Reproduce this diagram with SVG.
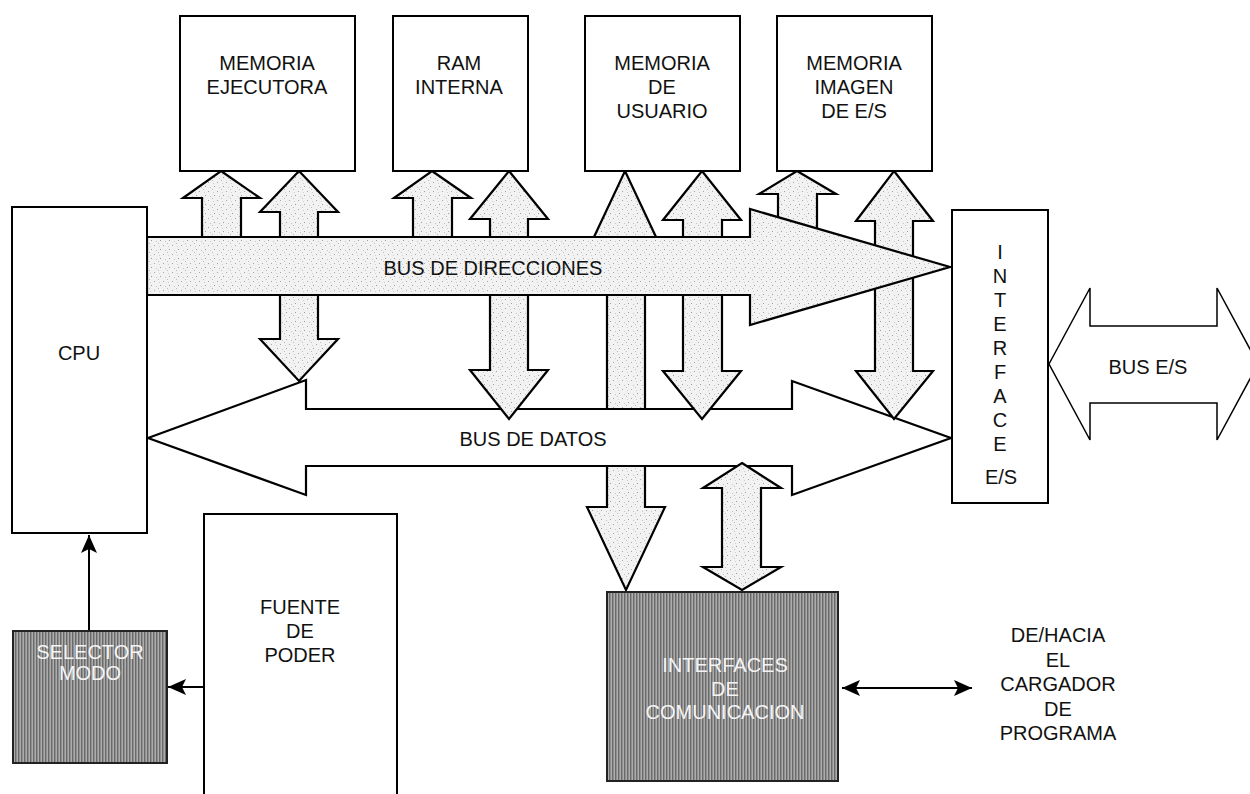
<svg xmlns="http://www.w3.org/2000/svg" width="1250" height="794" viewBox="0 0 1250 794">
  <defs>
    <!-- light stipple used for the bus and memory-access arrows -->
    <pattern id="stipple" width="9" height="9" patternUnits="userSpaceOnUse">
      <rect width="9" height="9" fill="#f2f2f2"/>
      <rect x="1" y="2" width="1" height="1" fill="#a8a8a8"/>
      <rect x="5" y="0" width="1" height="1" fill="#bcbcbc"/>
      <rect x="7" y="6" width="1" height="1" fill="#9c9c9c"/>
      <rect x="3" y="7" width="1" height="1" fill="#c4c4c4"/>
      <rect x="6" y="3" width="1" height="1" fill="#cfcfcf"/>
    </pattern>
    <!-- dark vertical hatching for the shaded blocks -->
    <pattern id="hatch" width="3" height="4" patternUnits="userSpaceOnUse">
      <rect width="3" height="4" fill="#8e8e8e"/>
      <rect x="0" width="1" height="4" fill="#6a6a6a"/>
      <rect x="2" width="1" height="4" fill="#adadad"/>
    </pattern>
    <marker id="solidHead" viewBox="0 0 18 16" refX="18" refY="8" markerWidth="18" markerHeight="16" markerUnits="userSpaceOnUse" orient="auto-start-reverse">
      <path d="M0,0 L18,8 L0,16 L4,8 z" fill="#000"/>
    </marker>
    <style>
      .box { fill: #fff; stroke: #000; stroke-width: 2; }
      .dark { fill: url(#hatch); stroke: #222; stroke-width: 2; }
      .fat { fill: url(#stipple); stroke: #000; stroke-width: 2.2; stroke-linejoin: miter; }
      .hollow { fill: #fff; stroke: #000; stroke-width: 2.2; stroke-linejoin: miter; }
      .thin { fill: #fff; stroke: #000; stroke-width: 1.5; }
      .wire { fill: none; stroke: #000; stroke-width: 2; }
      text { font-family: "Liberation Sans", Arial, sans-serif; font-size: 20px; fill: #111; text-anchor: middle; }
      .light { fill: #f4f4f4; }
    </style>
  </defs>

  <!-- buses and data paths -->
  <g id="connectors">
    <!-- user memory: head on the address bus, shaft down to the communication interfaces -->
    <polygon class="fat" points="625,171 656,237 645,237 645,507 665,507 626,590 587,507 607,507 607,237 594,237"/>

    <!-- data bus (double headed) -->
    <polygon class="hollow" points="148,438 306,380 306,409 792,409 792,381 951,438 792,495 792,466 306,466 306,495"/>
    <text x="533" y="446">BUS DE DATOS</text>

    <!-- single-headed arrows from the address bus up to the memories -->
    <polygon class="fat" points="221,171 260,198 241,198 241,240 202,240 202,198 183,198"/>
    <polygon class="fat" points="432,171 471,198 452,198 452,240 413,240 413,198 394,198"/>
    <polygon class="fat" points="797,171 836,194 817,194 817,262 778,262 778,194 759,194"/>

    <!-- double-headed arrows between memories and the data bus -->
    <polygon class="fat" points="299,171 338,212 318,212 318,339 338,339 299,381 260,339 280,339 280,212 260,212"/>
    <polygon class="fat" points="509,171 548,219 528,219 528,370 548,370 509,419 470,370 490,370 490,219 470,219"/>
    <polygon class="fat" points="702,171 741,220 722,220 722,371 741,371 702,419 663,371 683,371 683,220 663,220"/>
    <polygon class="fat" points="894,171 933,221 913,221 913,371 933,371 894,419 856,371 875,371 875,221 856,221"/>

    <!-- address bus -->
    <polygon class="fat" points="147,237 750,237 750,209 950,267 750,325 750,295 147,295"/>
    <text x="493" y="275">BUS DE DIRECCIONES</text>

    <!-- data bus to communication interfaces -->
    <polygon class="fat" points="742,463 781,488 761,488 761,567 781,567 742,590 703,567 722,567 722,488 703,488"/>

    <!-- I/O bus -->
    <polygon class="thin" points="1049,364 1090,288 1090,326 1217,326 1217,288 1258,364 1217,440 1217,403 1090,403 1090,440"/>
    <text x="1148" y="374">BUS E/S</text>

    <!-- thin signal lines -->
    <line class="wire" x1="89" y1="631" x2="89" y2="535" marker-end="url(#solidHead)"/>
    <line class="wire" x1="204" y1="687" x2="168" y2="687" marker-end="url(#solidHead)"/>
    <line class="wire" x1="842" y1="688" x2="972" y2="688" marker-start="url(#solidHead)" marker-end="url(#solidHead)"/>
  </g>

  <g id="cpu">
    <rect class="box" x="12" y="207" width="135" height="326"/>
    <text x="79" y="360">CPU</text>
  </g>

  <g id="memoria-ejecutora">
    <rect class="box" x="180" y="16" width="175" height="155"/>
    <text x="267" y="70">MEMORIA</text>
    <text x="267" y="94">EJECUTORA</text>
  </g>

  <g id="ram-interna">
    <rect class="box" x="393" y="16" width="135" height="155"/>
    <text x="459" y="70">RAM</text>
    <text x="459" y="94">INTERNA</text>
  </g>

  <g id="memoria-usuario">
    <rect class="box" x="585" y="16" width="155" height="155"/>
    <text x="662" y="70">MEMORIA</text>
    <text x="662" y="94">DE</text>
    <text x="662" y="118">USUARIO</text>
  </g>

  <g id="memoria-imagen">
    <rect class="box" x="777" y="16" width="155" height="155"/>
    <text x="854" y="70">MEMORIA</text>
    <text x="854" y="94">IMAGEN</text>
    <text x="854" y="118">DE E/S</text>
  </g>

  <g id="interface-es">
    <rect class="box" x="952" y="210" width="96" height="293"/>
    <text x="1000" y="259">I</text>
    <text x="1000" y="283">N</text>
    <text x="1000" y="307">T</text>
    <text x="1000" y="331">E</text>
    <text x="1000" y="355">R</text>
    <text x="1000" y="379">F</text>
    <text x="1000" y="403">A</text>
    <text x="1000" y="427">C</text>
    <text x="1000" y="451">E</text>
    <text x="1001" y="484">E/S</text>
  </g>

  <g id="fuente-poder">
    <rect class="box" x="204" y="514" width="193" height="300"/>
    <text x="300" y="614">FUENTE</text>
    <text x="300" y="638">DE</text>
    <text x="300" y="662">PODER</text>
  </g>

  <g id="selector-modo">
    <rect class="dark" x="13" y="631" width="154" height="132"/>
    <text class="light" x="90" y="659">SELECTOR</text>
    <text class="light" x="90" y="680">MODO</text>
  </g>

  <g id="interfaces-comunicacion">
    <rect class="dark" x="607" y="592" width="231" height="189"/>
    <text class="light" x="725" y="672">INTERFACES</text>
    <text class="light" x="725" y="696">DE</text>
    <text class="light" x="725" y="719">COMUNICACION</text>
  </g>

  <g id="cargador-programa">
    <text x="1058" y="642">DE/HACIA</text>
    <text x="1058" y="667">EL</text>
    <text x="1058" y="691">CARGADOR</text>
    <text x="1058" y="716">DE</text>
    <text x="1058" y="740">PROGRAMA</text>
  </g>
</svg>
